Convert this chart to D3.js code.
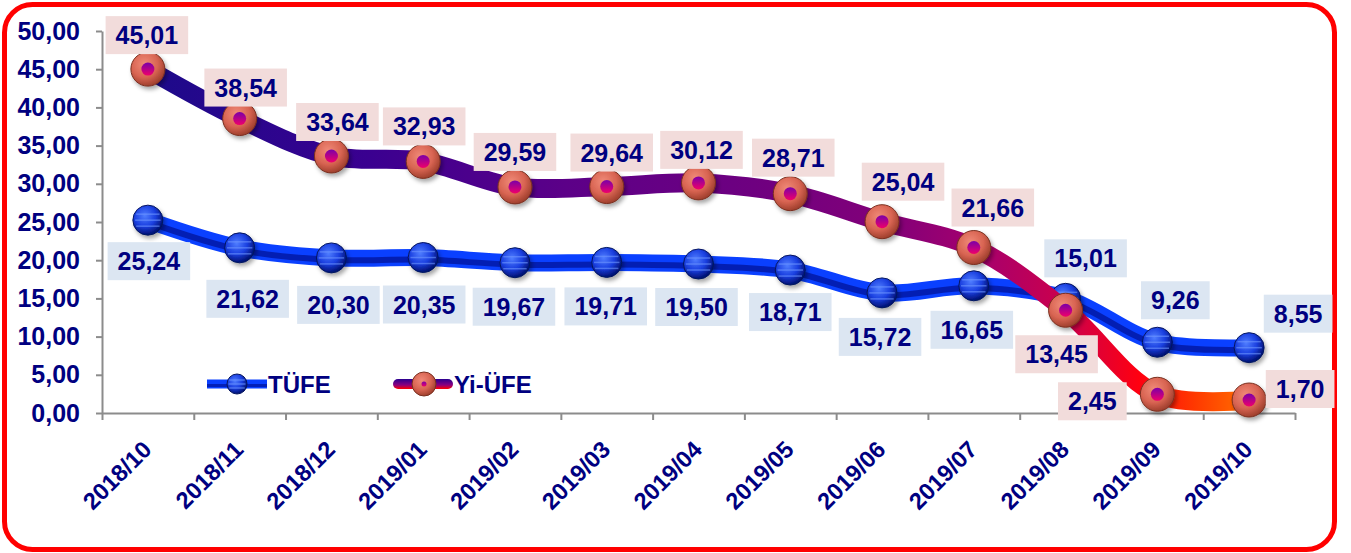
<!DOCTYPE html>
<html>
<head>
<meta charset="utf-8">
<script src="https://cdn.jsdelivr.net/npm/d3@7"></script>
<style>
  html, body { margin: 0; padding: 0; background: #fff; }
  #wrapper { width: 1351px; height: 553px; }
  text { font-family: "Liberation Sans", Arial, sans-serif; font-weight: bold; }
</style>
</head>
<body>
<div id="wrapper"></div>
<script>
const months = ["2018/10", "2018/11", "2018/12", "2019/01", "2019/02", "2019/03", "2019/04",
                "2019/05", "2019/06", "2019/07", "2019/08", "2019/09", "2019/10"]
const tufe = [25.24, 21.62, 20.30, 20.35, 19.67, 19.71, 19.50, 18.71, 15.72, 16.65, 15.01, 9.26, 8.55]
const yiufe = [45.01, 38.54, 33.64, 32.93, 29.59, 29.64, 30.12, 28.71, 25.04, 21.66, 13.45, 2.45, 1.70]
const yTicks = [0, 5, 10, 15, 20, 25, 30, 35, 40, 45, 50]

// where each value label sits relative to its point (px)
const tufeLabelNudge = [[1, 41], [8, 51], [7, 47], [1, 47], [-1, 44], [-1, 44], [-2, 43],
                        [0, 42], [-2, 44], [-2, 44], [20, -40], [18, -42], [49, -34]]
const yiufeLabelNudge = [[-1, -34], [6, -31], [6, -34], [1, -35], [0, -35], [5, -34], [3, -33],
                         [3, -36], [21, -40], [19, -40], [-9, 44], [-65, 7], [51, -11]]

function drawChart () {
    const dimensions = {
        width: 1351,
        height: 553,
        margin: { top: 31, right: 56, bottom: 140, left: 102 },
    }
    dimensions.boundedWidth = dimensions.width - dimensions.margin.left - dimensions.margin.right
    dimensions.boundedHeight = dimensions.height - dimensions.margin.top - dimensions.margin.bottom

    const svg = d3.select("#wrapper")
        .append("svg")
        .attr("width", dimensions.width)
        .attr("height", dimensions.height)

    const defs = svg.append("defs")

    // red rounded frame
    svg.append("rect")
        .attr("x", 4.5).attr("y", 4.5)
        .attr("width", 1330).attr("height", 545)
        .attr("rx", 28)
        .attr("fill", "#fff")
        .attr("stroke", "#ff0000")
        .attr("stroke-width", 5)

    const bounds = svg.append("g")
        .attr("transform", `translate(${dimensions.margin.left},${dimensions.margin.top})`)

    const xBand = d3.scaleBand()
        .domain(months)
        .range([0, dimensions.boundedWidth])
    const xEdge = d3.scaleLinear()
        .domain([0, months.length])
        .range([0, dimensions.boundedWidth])
    const yScale = d3.scaleLinear()
        .domain([0, 50])
        .range([dimensions.boundedHeight, 0])

    const xPos = i => xBand(months[i]) + xBand.bandwidth() / 2

    // gradients
    const lineGrad = defs.append("linearGradient")
        .attr("id", "yiufeGrad")
        .attr("gradientUnits", "userSpaceOnUse")
        .attr("x1", xPos(0)).attr("x2", xPos(months.length - 1))
        .attr("y1", 0).attr("y2", 0)
    ;[[0, "#1c0a8a"], [0.2, "#3a0090"], [0.38, "#5c0088"], [0.55, "#6e0080"], [0.68, "#840078"],
      [0.76, "#a8006c"], [0.84, "#d00048"], [0.9, "#ff0010"], [0.95, "#ff3800"], [1, "#ff7000"]]
        .forEach(([o, c]) => lineGrad.append("stop").attr("offset", o).attr("stop-color", c))

    const blueBall = defs.append("radialGradient")
        .attr("id", "blueBall").attr("cx", "40%").attr("cy", "35%").attr("r", "65%")
    blueBall.append("stop").attr("offset", 0).attr("stop-color", "#4f7dff")
    blueBall.append("stop").attr("offset", 0.55).attr("stop-color", "#1a3fe0")
    blueBall.append("stop").attr("offset", 1).attr("stop-color", "#001070")

    const redBall = defs.append("radialGradient")
        .attr("id", "redBall").attr("cx", "40%").attr("cy", "35%").attr("r", "65%")
    redBall.append("stop").attr("offset", 0).attr("stop-color", "#f08a78")
    redBall.append("stop").attr("offset", 0.6).attr("stop-color", "#d86452")
    redBall.append("stop").attr("offset", 1).attr("stop-color", "#a0402e")

    const dotGrad = defs.append("linearGradient")
        .attr("id", "dotGrad").attr("x1", 0).attr("y1", 0).attr("x2", 0).attr("y2", 1)
    dotGrad.append("stop").attr("offset", 0).attr("stop-color", "#7a00a8")
    dotGrad.append("stop").attr("offset", 1).attr("stop-color", "#f0006a")

    const legendRedLine = defs.append("linearGradient")
        .attr("id", "legendRedLine").attr("x1", 0).attr("y1", 0).attr("x2", 0).attr("y2", 1)
    legendRedLine.append("stop").attr("offset", 0).attr("stop-color", "#2a0090")
    legendRedLine.append("stop").attr("offset", 0.6).attr("stop-color", "#8a0080")
    legendRedLine.append("stop").attr("offset", 1).attr("stop-color", "#ff0000")

    const shadow = defs.append("filter").attr("id", "shadow")
        .attr("x", "-50%").attr("y", "-50%").attr("width", "200%").attr("height", "200%")
    shadow.append("feDropShadow")
        .attr("dx", 2).attr("dy", 3).attr("stdDeviation", 2)
        .attr("flood-color", "#000").attr("flood-opacity", 0.35)

    // axes
    const yAxisGenerator = d3.axisLeft(yScale)
        .tickValues(yTicks)
        .tickFormat(d => d.toFixed(2).replace(".", ","))
        .tickSize(6)
        .tickPadding(16)
        .tickSizeOuter(0)
    const yAxis = bounds.append("g").call(yAxisGenerator)
    yAxis.selectAll("text")
        .attr("fill", "#000080")
        .style("font-size", "25px")

    const xAxis = bounds.append("g")
        .attr("transform", `translate(0,${dimensions.boundedHeight})`)
        .call(d3.axisBottom(xEdge).tickValues(d3.range(months.length + 1)).tickFormat("").tickSize(7).tickSizeOuter(0))

    ;[yAxis, xAxis].forEach(a => {
        a.select(".domain").attr("stroke", "#8c8c8c").attr("stroke-width", 2)
        a.selectAll(".tick line").attr("stroke", "#8c8c8c").attr("stroke-width", 2)
    })

    bounds.append("g")
        .selectAll("text")
        .data(months)
        .join("text")
        .attr("transform", (d, i) => `translate(${xPos(i) + 5},${dimensions.boundedHeight + 38}) rotate(-45)`)
        .attr("text-anchor", "end")
        .attr("fill", "#000080")
        .style("font-size", "23.5px")
        .text(d => d)

    // lines
    const lineGen = d3.line()
        .x((d, i) => xPos(i))
        .y(d => yScale(d))
        .curve(d3.curveCatmullRom.alpha(0.5))

    bounds.append("path")
        .attr("d", lineGen(tufe))
        .attr("fill", "none")
        .attr("stroke", "#0a40ff")
        .attr("stroke-width", 17)
        .attr("stroke-linejoin", "round")
    bounds.append("path")
        .attr("d", lineGen(tufe))
        .attr("transform", "translate(0,2)")
        .attr("fill", "none")
        .attr("stroke", "#000c8a")
        .attr("stroke-width", 6)
        .attr("opacity", 0.65)

    const drawBlueBall = (g, r) => {
        g.append("circle").attr("r", r).attr("fill", "url(#blueBall)")
            .attr("stroke", "#061660").attr("stroke-width", 1)
        ;[-0.4, 0, 0.4].forEach(f => {
            const yy = f * r
            const half = Math.sqrt(r * r - yy * yy) * 0.85
            g.append("line")
                .attr("x1", -half).attr("x2", half).attr("y1", yy).attr("y2", yy)
                .attr("stroke", "#6e96ff").attr("stroke-width", 1.5).attr("opacity", 0.6)
        })
    }
    const drawRedBall = (g, r, dotR) => {
        g.append("circle").attr("r", r).attr("fill", "url(#redBall)")
            .attr("stroke", "#7a3020").attr("stroke-width", 1)
        g.append("circle").attr("r", dotR).attr("fill", "url(#dotGrad)")
    }

    bounds.append("g")
        .selectAll("g")
        .data(tufe)
        .join("g")
        .attr("transform", (d, i) => `translate(${xPos(i)},${yScale(d)})`)
        .attr("filter", "url(#shadow)")
        .each(function () { drawBlueBall(d3.select(this), 15) })

    bounds.append("path")
        .attr("d", lineGen(yiufe))
        .attr("fill", "none")
        .attr("stroke", "url(#yiufeGrad)")
        .attr("stroke-width", 19)
        .attr("stroke-linejoin", "round")

    bounds.append("g")
        .selectAll("g")
        .data(yiufe)
        .join("g")
        .attr("transform", (d, i) => `translate(${xPos(i)},${yScale(d)})`)
        .attr("filter", "url(#shadow)")
        .each(function () { drawRedBall(d3.select(this), 17, 6.5) })

    // value labels
    const drawLabels = (values, nudge, bg) => {
        const g = bounds.append("g")
            .selectAll("g")
            .data(values)
            .join("g")
            .attr("transform", (d, i) => `translate(${xPos(i) + nudge[i][0]},${yScale(d) + nudge[i][1]})`)
        const rects = g.append("rect").attr("fill", bg)
        const texts = g.append("text")
            .attr("text-anchor", "middle")
            .attr("dy", "0.36em")
            .attr("fill", "#000080")
            .style("font-size", "25px")
            .text(d => d.toFixed(2).replace(".", ","))
        texts.each(function (d, i) {
            const w = this.getComputedTextLength() + 20
            d3.select(rects.nodes()[i])
                .attr("x", -w / 2).attr("y", -19)
                .attr("width", w).attr("height", 38)
        })
    }
    drawLabels(tufe, tufeLabelNudge, "#dce6f2")
    drawLabels(yiufe, yiufeLabelNudge, "#f2dcdb")

    // legend
    const legend = svg.append("g")
    const l1 = legend.append("g").attr("transform", "translate(207,384)")
    l1.append("line").attr("x1", 0).attr("x2", 60).attr("y1", 0).attr("y2", 0)
        .attr("stroke", "#0a40ff").attr("stroke-width", 9)
    l1.append("line").attr("x1", 0).attr("x2", 60).attr("y1", 1.5).attr("y2", 1.5)
        .attr("stroke", "#000c8a").attr("stroke-width", 3).attr("opacity", 0.6)
    drawBlueBall(l1.append("g").attr("transform", "translate(30,0)"), 10)
    l1.append("text").attr("x", 61).attr("dy", "0.36em")
        .attr("fill", "#000080").style("font-size", "24px").text("TÜFE")

    const l2 = legend.append("g").attr("transform", "translate(393,384)")
    l2.append("rect").attr("x", 0).attr("y", -5).attr("width", 60).attr("height", 10).attr("rx", 5)
        .attr("fill", "url(#legendRedLine)")
    drawRedBall(l2.append("g").attr("transform", "translate(31,0)"), 12, 2.5)
    l2.append("text").attr("x", 61).attr("dy", "0.36em")
        .attr("fill", "#000080").style("font-size", "24px").text("Yi-ÜFE")
}

drawChart()
</script>
</body>
</html>
